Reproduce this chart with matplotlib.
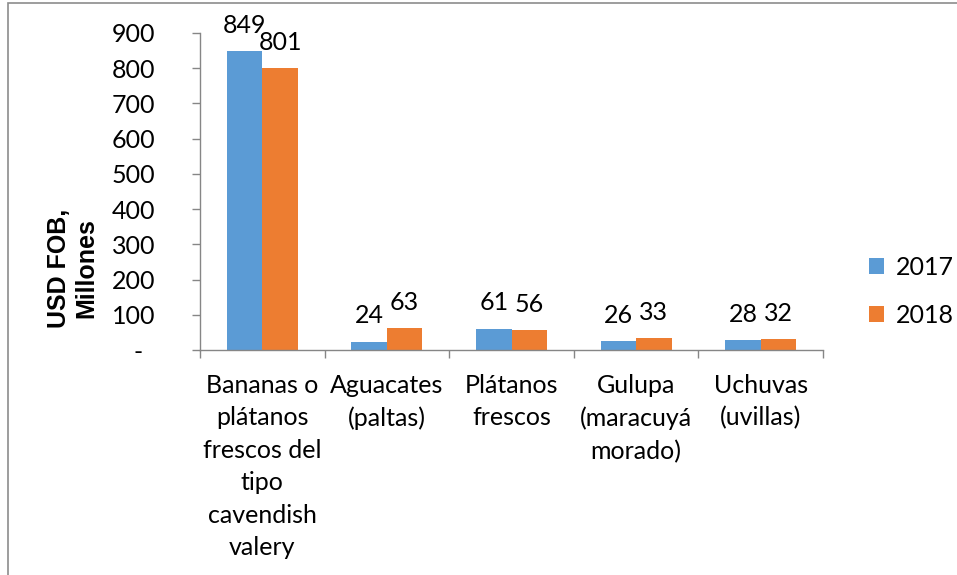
import matplotlib.pyplot as plt
import numpy as np
from matplotlib.patches import Rectangle

# ─── DATA ────────────────────────────────────────────────────────────────
categories = [
    "Bananas o\nplátanos\nfrescos del\ntipo\ncavendish\nvalery",
    "Aguacates\n(paltas)",
    "Plátanos\nfrescos",
    "Gulupa\n(maracuyá\nmorado)",
    "Uchuvas\n(uvillas)",
]
years = ["2017", "2018"]
values_2017 = [849, 24, 61, 26, 28]
values_2018 = [801, 63, 56, 33, 32]
yticks = [0, 100, 200, 300, 400, 500, 600, 700, 800, 900]
ytick_labels = ["-  "] + [str(v) for v in yticks[1:]]

# ─── STYLE ───────────────────────────────────────────────────────────────
plt.rcParams.update({
    "font.family": ["Lato", "DejaVu Sans"],
    "font.size": 18,
})
BLUE = "#5B9BD5"
ORANGE = "#ED7D31"
GRID = "#868686"

fig = plt.figure(figsize=(9.57, 5.75), dpi=100)
ax = fig.add_axes([200 / 957, 1 - 350 / 575, 623 / 957, 317 / 575])

# frame around chart area (only left/top edges visible in the crop)
fig.patches.append(Rectangle((8 / 957, -0.05), 1.2, 1.05 - 3 / 575,
                             transform=fig.transFigure, fill=False,
                             edgecolor="#8c8c8c", linewidth=1.2))

x = np.arange(len(categories))
w = 0.285
b1 = ax.bar(x - w / 2, values_2017, w, color=BLUE, label=years[0])
b2 = ax.bar(x + w / 2, values_2018, w, color=ORANGE, label=years[1])

for bars, vals in ((b1, values_2017), (b2, values_2018)):
    for rect, v in zip(bars, vals):
        ax.annotate(str(v), (rect.get_x() + rect.get_width() / 2, v),
                    xytext=(0, 13), textcoords="offset points",
                    ha="center", va="baseline", fontsize=18)

ax.set_xlim(-0.5, len(categories) - 0.5)
ax.set_ylim(0, 900)
ax.set_yticks(yticks)
ax.set_yticklabels(ytick_labels)

# category labels centered, ticks at boundaries
ax.set_xticks(x)
ax.set_xticklabels(categories, linespacing=1.5, va="top")
ax.tick_params(axis="x", length=0, pad=17)
ax.set_xticks(np.arange(len(categories) + 1) - 0.5, minor=True)
ax.tick_params(axis="x", which="minor", length=6, color=GRID, width=1)
ax.tick_params(axis="y", length=6, color=GRID, width=1, pad=26)

for s in ("top", "right"):
    ax.spines[s].set_visible(False)
for s in ("left", "bottom"):
    ax.spines[s].set_color(GRID)
    ax.spines[s].set_linewidth(1)

ax.set_ylabel("USD FOB,\nMillones", fontfamily="Liberation Sans",
              fontweight="bold", fontsize=18, linespacing=1.15)
ax.yaxis.set_label_coords((98 - 200) / 623, (350 - 268) / 317)

leg = ax.legend(loc="center left", bbox_to_anchor=(846 / 957, 1 - 291 / 575),
                bbox_transform=fig.transFigure, frameon=False,
                handlelength=0.6, handleheight=0.6, handletextpad=0.5,
                labelspacing=1.0, fontsize=18)

fig.savefig("out.png", dpi=100)
